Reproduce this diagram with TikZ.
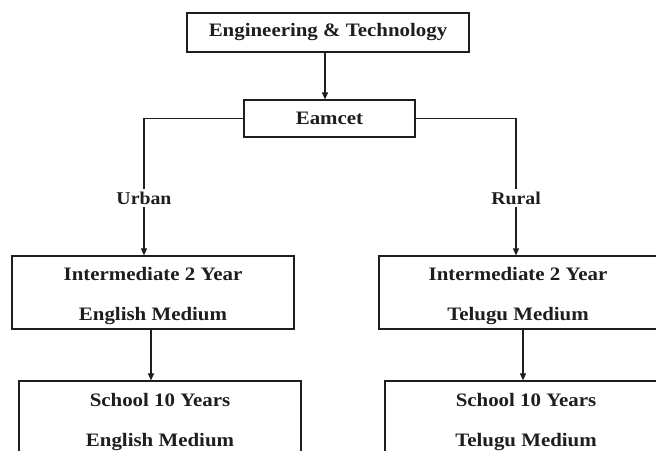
\documentclass[tikz,border=0pt]{standalone}
\usepackage{fontspec}
\setmainfont[FakeStretch=1.1]{Liberation Serif}
\usetikzlibrary{arrows.meta,calc}
\definecolor{ink}{HTML}{1E1E1E}
% strut that pushes two-line box text slightly downward
\newcommand{\topstrut}{\rule{0pt}{19.5pt}}
\tikzset{
  box/.style={draw=ink, line width=1.2pt, inner sep=0pt, align=center, text=ink,
              font=\fontsize{19}{40}\selectfont\bfseries},
  lbl/.style={inner sep=0pt, minimum height=18pt, text=ink,
              font=\fontsize{18}{20}\selectfont\bfseries},
  link/.style={draw=ink, line width=1.1pt},
  arr/.style={link, -{Triangle[length=7pt,width=6pt]}},
}
\begin{document}
\begin{tikzpicture}[x=1pt,y=-1pt]
  \useasboundingbox (0,0) rectangle (656,450);
  \clip (0,0) rectangle (656,450);
  \fill[white] (0,0) rectangle (656,450);

  % top of the hierarchy
  \node[box, minimum width=282pt, minimum height=39pt] (eng) at (328,32.5) {Engineering \& Technology};
  \node[box, minimum width=171pt, minimum height=37pt] (eam) at (329.5,118.5) {Eamcet};

  % branch labels
  \node[lbl] (urb) at (144,198) {Urban};
  \node[lbl] (rur) at (516,198) {Rural};

  % intermediate level
  \node[box, minimum width=282pt, minimum height=73pt] (intL) at (153,292.5)
    {\topstrut Intermediate 2 Year\\English Medium};
  \node[box, minimum width=278pt, minimum height=73pt] (intR) at (518,292.5)
    {\topstrut Intermediate 2 Year\\Telugu Medium};

  % school level
  \node[box, minimum width=282pt, minimum height=75pt] (schL) at (160,418.5)
    {\topstrut School 10 Years\\English Medium};
  \node[box, minimum width=282pt, minimum height=75pt] (schR) at (526,418.5)
    {\topstrut School 10 Years\\Telugu Medium};

  % connectors
  \draw[arr] ([xshift=-3pt]eng.south) -- ([xshift=-3pt]eng.south |- eam.north);
  \draw[link] (eam.west) -| (urb.north);
  \draw[link] (eam.east) -| (rur.north);
  \draw[arr] (urb.south) -- (urb.south |- intL.north);
  \draw[arr] (rur.south) -- (rur.south |- intR.north);
  \draw[arr] ([xshift=-2pt]intL.south) -- ([xshift=-2pt]intL.south |- schL.north);
  \draw[arr] ([xshift=5pt]intR.south) -- ([xshift=5pt]intR.south |- schR.north);
\end{tikzpicture}
\end{document}
